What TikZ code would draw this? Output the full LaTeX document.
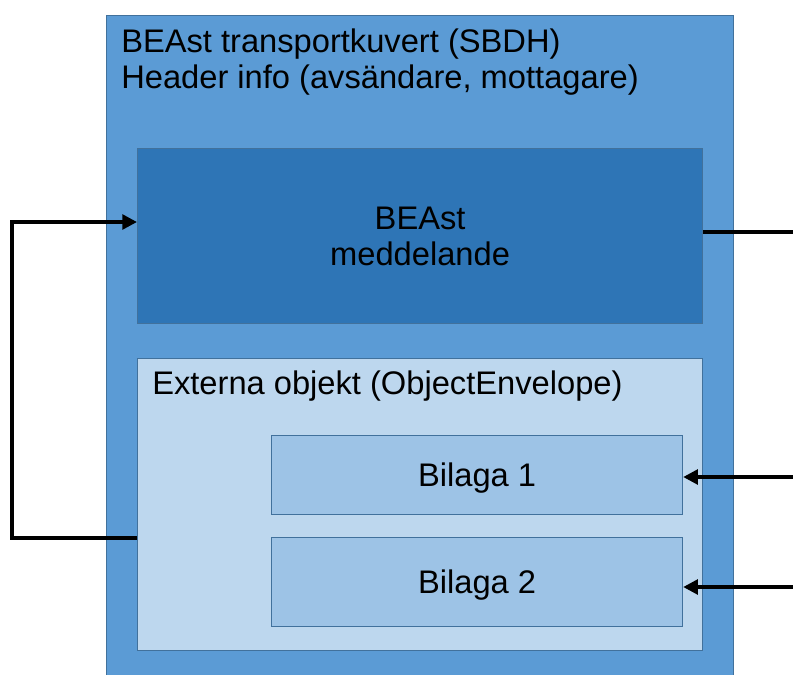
\documentclass[tikz,border=0pt]{standalone}
\usepackage{fontspec}
\setmainfont{Liberation Sans}
\usetikzlibrary{arrows.meta}

\definecolor{outerblue}{HTML}{5B9BD5}
\definecolor{msgblue}{HTML}{2E75B6}
\definecolor{paleblue}{HTML}{BDD7EE}
\definecolor{attblue}{HTML}{9DC3E6}
\definecolor{edgeblue}{HTML}{41719C}

\tikzset{
  box/.style={draw=edgeblue, line width=0.9pt, rectangle, inner sep=0pt, anchor=north west},
  txt/.style={font=\fontsize{24.5}{27}\selectfont, inner sep=0pt},
  wire/.style={draw=black, line width=2.6pt},
  head/.style={-{Triangle[length=11pt,width=11pt]}}
}

\begin{document}
\begin{tikzpicture}[x=0.75pt,y=-0.75pt]
		\clip (0,0) rectangle (793,675);
		\fill[white] (0,0) rectangle (793,675);
		
		% envelope and its parts
		\node[box, fill=outerblue, minimum width=470.25pt, minimum height=513.75pt] (env) at (106,15) {};
		\node[txt, anchor=north west, align=left] (envtext) at (121,29) {BEAst transportkuvert (SBDH)\\Header info (avsändare, mottagare)};
		
		\node[box, fill=msgblue, minimum width=423.75pt, minimum height=131.25pt] (msg) at (137,148) {};
		\node[txt, align=center] (msgtext) at (msg.center) {BEAst\\meddelande};
		
		\node[box, fill=paleblue, minimum width=423.75pt, minimum height=219pt] (ext) at (137,358) {};
		\node[txt, anchor=base west] (exttext) at (152,394) {Externa objekt (ObjectEnvelope)};
		
		\node[box, fill=attblue, minimum width=308.25pt, minimum height=59.25pt] (bil1) at (271,435) {};
		\node[txt] (bil1text) at ([yshift=-2pt]bil1.center) {Bilaga 1};
		\node[box, fill=attblue, minimum width=308.25pt, minimum height=66.75pt] (bil2) at (271,537) {};
		\node[txt] (bil2text) at ([yshift=-2pt]bil2.center) {Bilaga 2};
		
		% connectors
		\coordinate (loopB) at (12,538);
		\coordinate (loopT) at (12,222);
		\draw[wire, head] (loopB -| ext.west) -- (loopB) -- (loopT) -- (loopT -| msg.west);
		
		\coordinate (outM) at (800,232);
		\draw[wire] (outM -| msg.east) -- (outM);
		
		\coordinate (in1) at (800,477);
		\coordinate (in2) at (800,587);
		\draw[wire, head] (in1) -- (in1 -| bil1.east);
		\draw[wire, head] (in2) -- (in2 -| bil2.east);
		
\end{tikzpicture}
\end{document}
